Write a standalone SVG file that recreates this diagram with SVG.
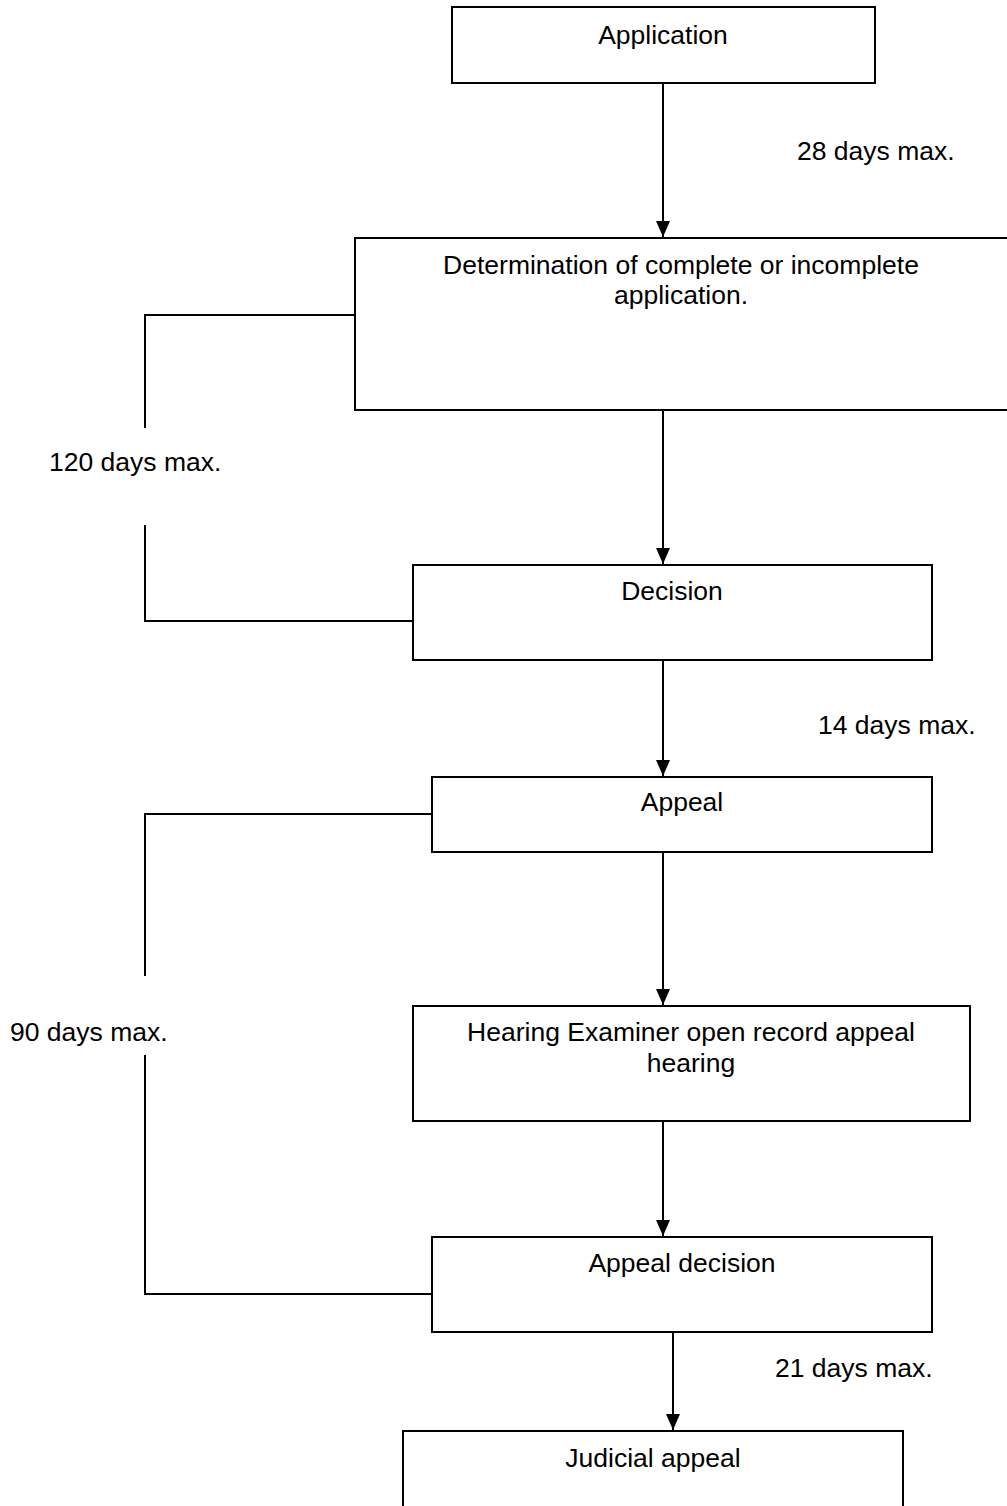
<svg xmlns="http://www.w3.org/2000/svg" width="1007" height="1506" viewBox="0 0 1007 1506">
<defs>
<style>
.box{fill:#fff;stroke:#000;stroke-width:2}
.ln{fill:none;stroke:#000;stroke-width:2}
.t{font-family:"Liberation Sans",Arial,sans-serif;font-size:26.5px;fill:#000}
.c{text-anchor:middle}
</style>
<marker id="ah" markerWidth="16" markerHeight="16" refX="16" refY="8" orient="auto" markerUnits="userSpaceOnUse" viewBox="0 0 16 16">
<path d="M0,1 L16,8 L0,15 Z" fill="#000"/>
</marker>
</defs>
<rect width="1007" height="1506" fill="#fff"/>
<g id="connectors">
<line class="ln" x1="663" y1="83" x2="663" y2="237" marker-end="url(#ah)"/>
<line class="ln" x1="663" y1="410" x2="663" y2="564" marker-end="url(#ah)"/>
<line class="ln" x1="663" y1="660" x2="663" y2="776" marker-end="url(#ah)"/>
<line class="ln" x1="663" y1="852" x2="663" y2="1005" marker-end="url(#ah)"/>
<line class="ln" x1="663" y1="1121" x2="663" y2="1236" marker-end="url(#ah)"/>
<line class="ln" x1="673" y1="1332" x2="673" y2="1430" marker-end="url(#ah)"/>
<polyline class="ln" points="355,315 145,315 145,428"/>
<polyline class="ln" points="145,525 145,621 413,621"/>
<polyline class="ln" points="432,814 145,814 145,976"/>
<polyline class="ln" points="145,1055 145,1294 432,1294"/>
<text class="t" x="797" y="160">28 days max.</text>
<text class="t" x="49" y="471">120 days max.</text>
<text class="t" x="818" y="734">14 days max.</text>
<text class="t" x="10" y="1041">90 days max.</text>
<text class="t" x="775" y="1377">21 days max.</text>
</g>
<g id="application">
<rect class="box" x="452" y="7" width="423" height="76"/>
<text class="t c" x="663" y="44">Application</text>
</g>
<g id="determination">
<rect class="box" x="355" y="238" width="660" height="172"/>
<text class="t c" x="681" y="274">Determination of complete or incomplete</text>
<text class="t c" x="681" y="304">application.</text>
</g>
<g id="decision">
<rect class="box" x="413" y="565" width="519" height="95"/>
<text class="t c" x="672" y="600">Decision</text>
</g>
<g id="appeal">
<rect class="box" x="432" y="777" width="500" height="75"/>
<text class="t c" x="682" y="811">Appeal</text>
</g>
<g id="hearing">
<rect class="box" x="413" y="1006" width="557" height="115"/>
<text class="t c" x="691" y="1041">Hearing Examiner open record appeal</text>
<text class="t c" x="691" y="1072">hearing</text>
</g>
<g id="appeal-decision">
<rect class="box" x="432" y="1237" width="500" height="95"/>
<text class="t c" x="682" y="1272">Appeal decision</text>
</g>
<g id="judicial-appeal">
<rect class="box" x="403" y="1431" width="500" height="100"/>
<text class="t c" x="653" y="1467">Judicial appeal</text>
</g>
</svg>
